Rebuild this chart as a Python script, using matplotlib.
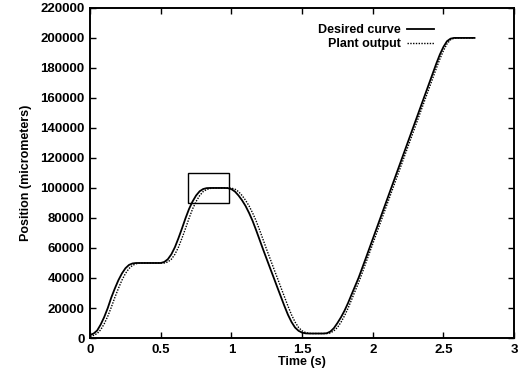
import matplotlib
matplotlib.use("Agg")
import matplotlib.pyplot as plt
from matplotlib.patches import Rectangle

plt.rcParams['font.family'] = ['Liberation Sans', 'DejaVu Sans']

# time grid (s)
time_s = [0.000, 0.025, 0.050, 0.075, 0.100, 0.125, 0.150, 0.175, 0.200, 0.225,
          0.250, 0.275, 0.300, 0.325, 0.350, 0.375, 0.400, 0.425, 0.450, 0.475,
          0.500, 0.525, 0.550, 0.575, 0.600, 0.625, 0.650, 0.675, 0.700, 0.725,
          0.750, 0.775, 0.800, 0.825, 0.850, 0.875, 0.900, 0.925, 0.950, 0.975,
          1.000, 1.025, 1.050, 1.075, 1.100, 1.125, 1.150, 1.175, 1.200, 1.225,
          1.250, 1.275, 1.300, 1.325, 1.350, 1.375, 1.400, 1.425, 1.450, 1.475,
          1.500, 1.525, 1.550, 1.575, 1.600, 1.625, 1.650, 1.675, 1.700, 1.725,
          1.750, 1.775, 1.800, 1.825, 1.850, 1.875, 1.900, 1.925, 1.950, 1.975,
          2.000, 2.025, 2.050, 2.075, 2.100, 2.125, 2.150, 2.175, 2.200, 2.225,
          2.250, 2.275, 2.300, 2.325, 2.350, 2.375, 2.400, 2.425, 2.450, 2.475,
          2.500, 2.525, 2.550, 2.575, 2.600, 2.625, 2.650, 2.675, 2.700, 2.720]

# desired curve (micrometers)
desired = [2000, 3000, 5000, 9000, 14000, 20000, 27000, 33000, 38500, 43000,
           46500, 48700, 49700, 50000, 50000, 50000, 50000, 50000, 50000, 50000,
           50000, 50700, 52500, 55800, 60500, 66500, 73000, 79800, 86000, 91000,
           95000, 97800, 99300, 99900, 100000, 100000, 100000, 100000, 100000, 99900,
           99200, 97600, 95000, 91800, 88000, 83300, 78000, 71800, 65300, 58800,
           52500, 46200, 40000, 33700, 27500, 21300, 15500, 10700, 7000, 4800,
           3600, 3100, 3000, 3000, 3000, 3000, 3000, 3200, 4300, 6600,
           10000, 13800, 18200, 23300, 29000, 34600, 40200, 46600, 53000, 59500,
           66000, 72500, 79000, 85500, 92000, 98500, 105000, 111500, 118000, 124500,
           131000, 137500, 144000, 150500, 157000, 163500, 170000, 176500, 183000, 189000,
           194000, 197800, 199500, 200000, 200000, 200000, 200000, 200000, 200000, 200000]

# plant output (micrometers)
plant = [1000, 1800, 3000, 5500, 9500, 14500, 20500, 27000, 33000, 38500,
         43000, 46300, 48400, 49500, 49900, 50000, 50000, 50000, 50000, 50000,
         50000, 50000, 50700, 52500, 55800, 60500, 66500, 73000, 79800, 86000,
         91000, 94900, 97600, 99000, 99700, 100000, 100000, 100000, 100000, 100000,
         99900, 99200, 97600, 95000, 91800, 88000, 83300, 78000, 71800, 65300,
         58800, 52500, 46200, 40000, 33700, 27500, 21300, 15500, 10700, 7000,
         4800, 3600, 3100, 3000, 3000, 3000, 3000, 3000, 3400, 4800,
         7000, 10500, 14800, 19800, 25500, 31300, 37000, 43300, 49800, 56300,
         62800, 69300, 75800, 82300, 88800, 95300, 101800, 108300, 114800, 121300,
         127800, 134300, 140800, 147300, 153800, 160300, 166800, 173300, 179800, 186000,
         191500, 196000, 198800, 199800, 200000, 200000, 200000, 200000, 200000, 200000]

# zoom box (t0, t1, y0, y1)
box = [0.69, 0.98, 90000, 110000]

xticks = [0, 0.5, 1, 1.5, 2, 2.5, 3]
xticklabels = ['0', '0.5', '1', '1.5', '2', '2.5', '3']
yticks = list(range(0, 220001, 20000))

fig = plt.figure(figsize=(5.30, 3.77), dpi=100)
ax = fig.add_axes([0.170, 0.1034, 0.800, 0.8756])

ax.plot(time_s, desired, color='black', linewidth=1.3, label='Desired curve')
ax.plot(time_s, plant, color='black', linewidth=1.0, linestyle=(0, (1, 1)),
        label='Plant output')

ax.add_patch(Rectangle((box[0], box[2]), box[1] - box[0], box[3] - box[2],
                       fill=False, edgecolor='black', linewidth=1.0))

ax.set_xlim(0, 3)
ax.set_ylim(0, 220000)
ax.set_xticks(xticks)
ax.set_xticklabels(xticklabels)
ax.set_yticks(yticks)
ax.tick_params(direction='in', top=True, right=True, length=4, width=1,
               labelsize=9.5, pad=4)
for lbl in ax.get_xticklabels() + ax.get_yticklabels():
    lbl.set_fontweight('bold')
for sp in ax.spines.values():
    sp.set_linewidth(1.4)

ax.set_xlabel('Time (s)', fontsize=9, fontweight='bold', labelpad=0)
ax.set_ylabel('Position (micrometers)', fontsize=9, fontweight='bold', labelpad=6)

ax.legend(loc='upper right', bbox_to_anchor=(0.81, 0.95), frameon=False,
          markerfirst=False, prop={'weight': 'bold', 'size': 9},
          handlelength=2.1, handletextpad=0.5, labelspacing=0.15,
          borderpad=0, borderaxespad=0)

fig.savefig('out.png', dpi=100)
